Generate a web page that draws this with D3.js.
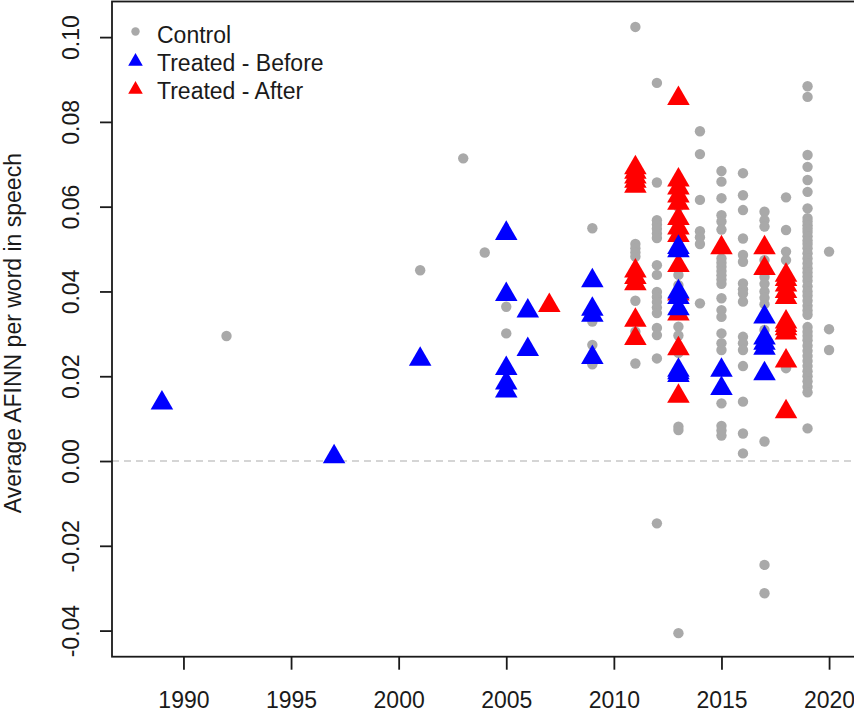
<!DOCTYPE html>
<html>
<head>
<meta charset="utf-8">
<script src="https://cdnjs.cloudflare.com/ajax/libs/d3/7.8.5/d3.min.js"></script>
<style>
  html, body { margin: 0; padding: 0; background: #fff; }
  svg { display: block; font-family: "Liberation Sans", Arial, sans-serif; }
</style>
</head>
<body>
<svg id="chart" width="854" height="717"></svg>
<script>
// Average AFINN sentiment per word in speeches, by year and group.
const xTicks = [1990, 1995, 2000, 2005, 2010, 2015, 2020];
const yTicks = [-0.04, -0.02, 0.00, 0.02, 0.04, 0.06, 0.08, 0.10];
const legendLabels = ["Control", "Treated - Before", "Treated - After"];

// [year, value] pairs for each group
const controlPoints = [
  [1992, 0.0295], [2001, 0.0450], [2003, 0.0714], [2004, 0.0492],
  [2005, 0.0364], [2005, 0.0301],
  [2009, 0.0549], [2009, 0.0329], [2009, 0.0274], [2009, 0.0228],
  [2011, 0.1024], [2011, 0.0512], [2011, 0.0502], [2011, 0.0492], [2011, 0.0482],
  [2011, 0.0378], [2011, 0.0305], [2011, 0.0230],
  [2012, 0.0892], [2012, 0.0657], [2012, 0.0568], [2012, 0.0558], [2012, 0.0548],
  [2012, 0.0537], [2012, 0.0526], [2012, 0.0462], [2012, 0.0439], [2012, 0.0399],
  [2012, 0.0387], [2012, 0.0375], [2012, 0.0362], [2012, 0.0349], [2012, 0.0314],
  [2012, 0.0297], [2012, 0.0242], [2012, -0.0147],
  [2013, 0.0616], [2013, 0.0599], [2013, 0.0439], [2013, 0.0415], [2013, 0.0380],
  [2013, 0.0317], [2013, 0.0296], [2013, 0.0255], [2013, 0.0081], [2013, 0.0073],
  [2013, -0.0406],
  [2014, 0.0778], [2014, 0.0724], [2014, 0.0616], [2014, 0.0542], [2014, 0.0528],
  [2014, 0.0512], [2014, 0.0372],
  [2015, 0.0684], [2015, 0.0659], [2015, 0.0620], [2015, 0.0580], [2015, 0.0565],
  [2015, 0.0546], [2015, 0.0478], [2015, 0.0468], [2015, 0.0458], [2015, 0.0448],
  [2015, 0.0438], [2015, 0.0428], [2015, 0.0418], [2015, 0.0384], [2015, 0.0356],
  [2015, 0.0340], [2015, 0.0301], [2015, 0.0278], [2015, 0.0262], [2015, 0.0136],
  [2015, 0.0083], [2015, 0.0072], [2015, 0.0060],
  [2016, 0.0679], [2016, 0.0627], [2016, 0.0592], [2016, 0.0525], [2016, 0.0486],
  [2016, 0.0470], [2016, 0.0419], [2016, 0.0405], [2016, 0.0395], [2016, 0.0376],
  [2016, 0.0293], [2016, 0.0278], [2016, 0.0262], [2016, 0.0224], [2016, 0.0140],
  [2016, 0.0065], [2016, 0.0018],
  [2017, 0.0588], [2017, 0.0568], [2017, 0.0553], [2017, 0.0474], [2017, 0.0434],
  [2017, 0.0418], [2017, 0.0400], [2017, 0.0385], [2017, 0.0370], [2017, 0.0309],
  [2017, 0.0285], [2017, 0.0278], [2017, 0.0046], [2017, -0.0245], [2017, -0.0312],
  [2018, 0.0622], [2018, 0.0545], [2018, 0.0494], [2018, 0.0474], [2018, 0.0219],
  [2019, 0.0884], [2019, 0.0859], [2019, 0.0722], [2019, 0.0694], [2019, 0.0663],
  [2019, 0.0635], [2019, 0.0596], [2019, 0.0573], [2019, 0.0565], [2019, 0.0556],
  [2019, 0.0548], [2019, 0.0540], [2019, 0.0530], [2019, 0.0520], [2019, 0.0512],
  [2019, 0.0502], [2019, 0.0490], [2019, 0.0478], [2019, 0.0466], [2019, 0.0455],
  [2019, 0.0445], [2019, 0.0435], [2019, 0.0425], [2019, 0.0412], [2019, 0.0400],
  [2019, 0.0390], [2019, 0.0378], [2019, 0.0366], [2019, 0.0355], [2019, 0.0345],
  [2019, 0.0316], [2019, 0.0305], [2019, 0.0295], [2019, 0.0285], [2019, 0.0272],
  [2019, 0.0260], [2019, 0.0248], [2019, 0.0236], [2019, 0.0224], [2019, 0.0212],
  [2019, 0.0200], [2019, 0.0188], [2019, 0.0175], [2019, 0.0162], [2019, 0.0077],
  [2020, 0.0494], [2020, 0.0311], [2020, 0.0262]
];

const treatedBefore = [
  [1989, 0.0137], [1997, 0.0010], [2001, 0.0240],
  [2005, 0.0537], [2005, 0.0393], [2005, 0.0218], [2005, 0.0184], [2005, 0.0165],
  [2006, 0.0354], [2006, 0.0263],
  [2009, 0.0425], [2009, 0.0358], [2009, 0.0344], [2009, 0.0244],
  [2013, 0.0504], [2013, 0.0496], [2013, 0.0399], [2013, 0.0386], [2013, 0.0359],
  [2013, 0.0214], [2013, 0.0208], [2013, 0.0202],
  [2015, 0.0214], [2015, 0.0171],
  [2017, 0.0340], [2017, 0.0290], [2017, 0.0278], [2017, 0.0266], [2017, 0.0206]
];

const treatedAfter = [
  [2007, 0.0367],
  [2011, 0.0692], [2011, 0.0681], [2011, 0.0670], [2011, 0.0660], [2011, 0.0648],
  [2011, 0.0448], [2011, 0.0433], [2011, 0.0418], [2011, 0.0332], [2011, 0.0289],
  [2013, 0.0855], [2013, 0.0663], [2013, 0.0644], [2013, 0.0625], [2013, 0.0608],
  [2013, 0.0572], [2013, 0.0550], [2013, 0.0532], [2013, 0.0461], [2013, 0.0394],
  [2013, 0.0347], [2013, 0.0265], [2013, 0.0153],
  [2015, 0.0503],
  [2017, 0.0503], [2017, 0.0454],
  [2018, 0.0438], [2018, 0.0428], [2018, 0.0415], [2018, 0.0400], [2018, 0.0386],
  [2018, 0.0328], [2018, 0.0320], [2018, 0.0312], [2018, 0.0302], [2018, 0.0236],
  [2018, 0.0116]
];

const colControl = "#a9a9a9";
const colBefore = "#0000ff";
const colAfter = "#ff0000";

const svg = d3.select("#chart");
const plot = { left: 112, top: 1.5, right: 879, bottom: 656.7 };

const x = d3.scaleLinear().domain([1986.68, 2022.32]).range([plot.left, plot.right]);
const y = d3.scaleLinear().domain([-0.04616, 0.1084]).range([plot.bottom, plot.top]);

const fontSize = 23;
const ink = "#1a1a1a";
// tick labels use a plain hyphen for negatives
const fmtY = v => v.toFixed(2).replace("\u2212", "-");

// zero reference line
svg.append("line")
  .attr("x1", plot.left).attr("x2", plot.right)
  .attr("y1", y(0)).attr("y2", y(0))
  .attr("stroke", "#c8c8c8").attr("stroke-width", 1.5)
  .attr("stroke-dasharray", "7,5");

// points: control circles, then treated triangles
const marks = svg.append("g");
marks.selectAll("circle.ctrl").data(controlPoints).join("circle")
  .attr("class", "ctrl")
  .attr("cx", d => x(d[0])).attr("cy", d => y(d[1]))
  .attr("r", 5.2).attr("fill", colControl);

const tri = d3.symbol().type(d3.symbolTriangle).size(220);
marks.selectAll("path.after").data(treatedAfter).join("path")
  .attr("class", "after")
  .attr("d", tri)
  .attr("transform", d => `translate(${x(d[0])},${y(d[1])})`)
  .attr("fill", colAfter);
marks.selectAll("path.before").data(treatedBefore).join("path")
  .attr("class", "before")
  .attr("d", tri)
  .attr("transform", d => `translate(${x(d[0])},${y(d[1])})`)
  .attr("fill", colBefore);

// plot frame
svg.append("rect")
  .attr("x", plot.left).attr("y", plot.top)
  .attr("width", plot.right - plot.left).attr("height", plot.bottom - plot.top)
  .attr("fill", "none").attr("stroke", ink).attr("stroke-width", 1.8);

// x axis
const xAxis = d3.axisBottom(x).tickValues(xTicks).tickSize(13).tickPadding(0).tickFormat(d3.format("d"));
const gx = svg.append("g").attr("transform", `translate(0,${plot.bottom})`).call(xAxis);
gx.select(".domain").remove();
gx.selectAll(".tick line").attr("stroke", ink).attr("stroke-width", 1.8);
gx.selectAll(".tick text")
  .attr("y", 51).attr("dy", null)
  .attr("font-size", fontSize).attr("font-family", "'Liberation Sans', Arial, sans-serif")
  .attr("fill", ink);

// y axis with vertical labels
const yAxis = d3.axisLeft(y).tickValues(yTicks).tickSize(12).tickPadding(0).tickFormat(fmtY);
const gy = svg.append("g").attr("transform", `translate(${plot.left},0)`).call(yAxis);
gy.select(".domain").remove();
gy.selectAll(".tick line").attr("stroke", ink).attr("stroke-width", 1.8);
gy.selectAll(".tick text")
  .attr("x", null).attr("dy", null)
  .attr("text-anchor", "middle")
  .attr("transform", "translate(-33,0) rotate(-90)")
  .attr("font-size", fontSize).attr("font-family", "'Liberation Sans', Arial, sans-serif")
  .attr("fill", ink);

// y axis title
svg.append("text")
  .attr("transform", `translate(21,${(plot.top + plot.bottom) / 2 + 4}) rotate(-90)`)
  .attr("text-anchor", "middle")
  .attr("font-size", fontSize).attr("fill", ink)
  .text("Average AFINN per word in speech");

// legend
const legend = svg.append("g");
const legendRows = [
  { label: legendLabels[0], kind: "circle", color: colControl, cy: 31.5, ty: 42.5 },
  { label: legendLabels[1], kind: "tri", color: colBefore, cy: 61.5, ty: 70.5 },
  { label: legendLabels[2], kind: "tri", color: colAfter, cy: 89.5, ty: 98.5 }
];
const legTri = d3.symbol().type(d3.symbolTriangle).size(92);
legendRows.forEach(r => {
  if (r.kind === "circle") {
    legend.append("circle").attr("cx", 135.5).attr("cy", r.cy).attr("r", 4.2).attr("fill", r.color);
  } else {
    legend.append("path").attr("d", legTri)
      .attr("transform", `translate(135.5,${r.cy})`).attr("fill", r.color);
  }
  legend.append("text").attr("x", 157).attr("y", r.ty)
    .attr("font-size", fontSize).attr("fill", ink).text(r.label);
});
</script>
</body>
</html>
